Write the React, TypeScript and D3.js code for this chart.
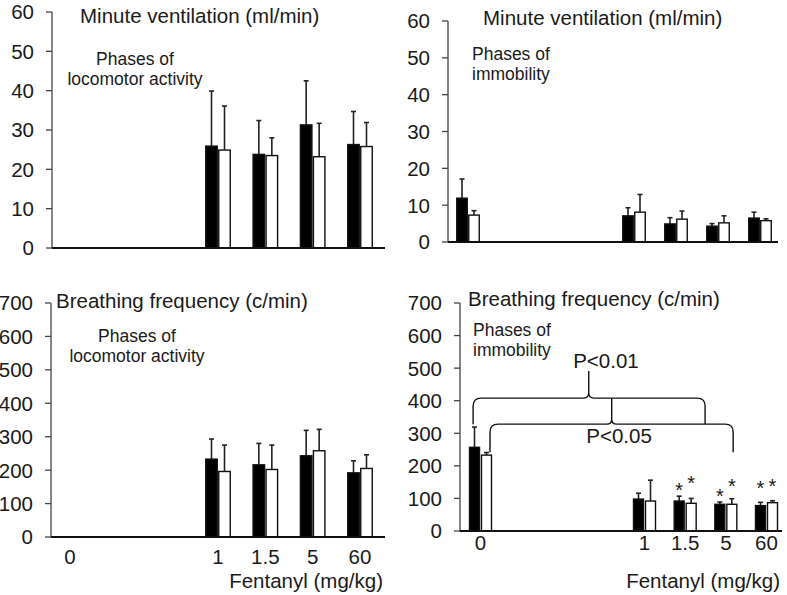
import * as React from "react";
import * as d3 from "d3";

// dose groups (fentanyl, mg/kg)
const doses = ["0", "1", "1.5", "5", "60"];

// minute ventilation (ml/min), phases of locomotor activity (no 0 group)
const mvLocoBlack = [null, 25.9, 23.8, 31.3, 26.3];
const mvLocoBlackSd = [null, 14.0, 8.6, 11.2, 8.4];
const mvLocoWhite = [null, 24.9, 23.5, 23.2, 25.8];
const mvLocoWhiteSd = [null, 11.2, 4.5, 8.5, 6.1];

// minute ventilation (ml/min), phases of immobility
const mvImmBlack = [11.9, 7.1, 4.9, 4.3, 6.5];
const mvImmBlackSd = [5.2, 2.2, 1.7, 0.7, 1.6];
const mvImmWhite = [7.3, 8.1, 6.2, 5.2, 5.8];
const mvImmWhiteSd = [1.2, 4.8, 2.2, 1.9, 0.5];

// breathing frequency (c/min), phases of locomotor activity
const bfLocoBlack = [null, 233, 216, 243, 192];
const bfLocoBlackSd = [null, 60, 64, 76, 36];
const bfLocoWhite = [null, 196, 202, 258, 205];
const bfLocoWhiteSd = [null, 79, 73, 64, 41];

// breathing frequency (c/min), phases of immobility
const bfImmBlack = [257, 98, 92, 82, 78];
const bfImmBlackSd = [62, 18, 15, 7, 10];
const bfImmWhite = [233, 92, 85, 82, 87];
const bfImmWhiteSd = [8, 64, 15, 17, 6];

// asterisk levels (c/min) for significant groups
const bfImmStarBlack = [null, null, 138, 120, 144];
const bfImmStarWhite = [null, null, 160, 150, 150];

const mvTicks = [0, 10, 20, 30, 40, 50, 60];
const bfTicks = [0, 100, 200, 300, 400, 500, 600, 700];

// significance brackets: x in group index units, y in c/min
const brackets = [
  { x0: -0.045, x1: 2.49, y: 408, yEnd: 328, peakX: 0.66, peakY: 491, label: "P<0.01", lx: 0.765, ly: 500 },
  { x0: 0.058, x1: 3.18, y: 328, yEnd: 242, peakX: 0.8, peakY: 408, label: "P<0.05", lx: 0.845, ly: 270 },
];

const FONT = "'Liberation Sans', Arial, sans-serif";
const INK = "#1a1a1a";

type Num = number | null;

interface PanelProps {
  title: string;
  phase: string[];
  axisX: number;
  axisEnd: number;
  yRange: [number, number];
  xRange: [number, number, number];
  yMax: number;
  ticks: number[];
  black: Num[];
  blackSd: Num[];
  white: Num[];
  whiteSd: Num[];
  barW: number;
  barOff: number;
  titlePos: [number, number];
  phasePos: [number, number, "start" | "middle"];
  xLabels?: number;
  stars?: { black: Num[]; white: Num[] };
  withBrackets?: boolean;
}

function bracePath(x0: number, x1: number, y: number, yEnd: number, px: number, py: number) {
  const r = 8;
  const q = 5;
  const p = d3.path();
  p.moveTo(x0, yEnd);
  p.lineTo(x0, y + r);
  p.quadraticCurveTo(x0, y, x0 + r, y);
  p.lineTo(px - q, y);
  p.quadraticCurveTo(px, y, px, y - q);
  p.lineTo(px, py);
  p.moveTo(px, y - q);
  p.quadraticCurveTo(px, y, px + q, y);
  p.lineTo(x1 - r, y);
  p.quadraticCurveTo(x1, y, x1, y + r);
  p.lineTo(x1, yEnd);
  return p.toString();
}

function Panel(props: PanelProps) {
  const y = d3.scaleLinear().domain([0, props.yMax]).range(props.yRange);
  const x = d3.scaleLinear().domain([0, 1, 4]).range(props.xRange);
  const [y0, yTop] = props.yRange;

  const series = [
    { vals: props.black, sd: props.blackSd, off: -props.barOff, fill: "#000" },
    { vals: props.white, sd: props.whiteSd, off: props.barOff, fill: "#fff" },
  ];

  return (
    <g fontFamily={FONT} fill={INK}>
      {/* y axis */}
      <line x1={props.axisX} x2={props.axisX} y1={yTop} y2={y0} stroke="#444" strokeWidth={1.3} />
      {props.ticks.map((t) => (
        <g key={t}>
          <line x1={props.axisX - 6} x2={props.axisX} y1={y(t)} y2={y(t)} stroke="#444" strokeWidth={1.3} />
          <text x={props.axisX - 18} y={y(t)} dy="0.36em" textAnchor="end" fontSize={20.5}>
            {t}
          </text>
        </g>
      ))}

      {/* bars */}
      {series.map((s, si) =>
        s.vals.map((v, i) => {
          if (v == null) return null;
          const cx = x(i) + s.off;
          const top = y(v);
          const errTop = y(v + (s.sd[i] ?? 0));
          return (
            <g key={`${si}-${i}`}>
              <line x1={cx} x2={cx} y1={top} y2={errTop} stroke="#222" strokeWidth={1.6} />
              <line x1={cx - 2.5} x2={cx + 2.5} y1={errTop} y2={errTop} stroke="#222" strokeWidth={1.6} />
              <rect
                x={cx - props.barW / 2}
                y={top}
                width={props.barW}
                height={y0 - top}
                fill={s.fill}
                stroke="#111"
                strokeWidth={1.4}
              />
            </g>
          );
        })
      )}

      {/* x axis */}
      <line x1={props.axisX} x2={props.axisEnd} y1={y0} y2={y0} stroke="#111" strokeWidth={2} />

      {props.xLabels != null &&
        doses.map((d, i) => (
          <text key={d} x={x(i)} y={props.xLabels} textAnchor="middle" fontSize={20.5}>
            {d}
          </text>
        ))}
      {props.xLabels != null && (
        <text x={props.axisEnd - 2} y={588} textAnchor="end" fontSize={20.5}>
          Fentanyl (mg/kg)
        </text>
      )}

      {/* titles */}
      <text x={props.titlePos[0]} y={props.titlePos[1]} fontSize={20.5}>
        {props.title}
      </text>
      {props.phase.map((line, i) => (
        <text
          key={line}
          x={props.phasePos[0]}
          y={props.phasePos[1] + i * 19.5}
          textAnchor={props.phasePos[2]}
          fontSize={17.5}
        >
          {line}
        </text>
      ))}

      {props.stars &&
        [props.stars.black, props.stars.white].map((arr, si) =>
          arr.map((v, i) =>
            v == null ? null : (
              <text
                key={`s${si}-${i}`}
                x={x(i) + (si === 0 ? -props.barOff : props.barOff)}
                y={y(v) + 11}
                textAnchor="middle"
                fontSize={20}
              >
                *
              </text>
            )
          )
        )}

      {props.withBrackets &&
        brackets.map((b) => (
          <g key={b.label}>
            <path
              d={bracePath(x(b.x0), x(b.x1), y(b.y), y(b.yEnd), x(b.peakX), y(b.peakY))}
              fill="none"
              stroke="#111"
              strokeWidth={1.4}
            />
            <text x={x(b.lx)} y={y(b.ly)} textAnchor="middle" fontSize={20.5}>
              {b.label}
            </text>
          </g>
        ))}
    </g>
  );
}

export default function App() {
  return (
    <svg
      width={787}
      height={595}
      style={{ position: "absolute", left: 0, top: 0, background: "#fff" }}
    >
      <Panel
        title="Minute ventilation (ml/min)"
        phase={["Phases of", "locomotor activity"]}
        axisX={52}
        axisEnd={385}
        yRange={[248, 12]}
        xRange={[70, 218, 360]}
        yMax={60}
        ticks={mvTicks}
        black={mvLocoBlack}
        blackSd={mvLocoBlackSd}
        white={mvLocoWhite}
        whiteSd={mvLocoWhiteSd}
        barW={11.5}
        barOff={6.5}
        titlePos={[80, 23]}
        phasePos={[135, 65, "middle"]}
      />
      <Panel
        title="Minute ventilation (ml/min)"
        phase={["Phases of", "immobility"]}
        axisX={448}
        axisEnd={778}
        yRange={[242, 21]}
        xRange={[468, 634, 760]}
        yMax={60}
        ticks={mvTicks}
        black={mvImmBlack}
        blackSd={mvImmBlackSd}
        white={mvImmWhite}
        whiteSd={mvImmWhiteSd}
        barW={10.5}
        barOff={6}
        titlePos={[483, 25]}
        phasePos={[472, 60, "start"]}
      />
      <Panel
        title="Breathing frequency (c/min)"
        phase={["Phases of", "locomotor activity"]}
        axisX={51}
        axisEnd={385}
        yRange={[537, 303]}
        xRange={[70, 218, 360]}
        yMax={700}
        ticks={bfTicks}
        black={bfLocoBlack}
        blackSd={bfLocoBlackSd}
        white={bfLocoWhite}
        whiteSd={bfLocoWhiteSd}
        barW={11.5}
        barOff={6.5}
        titlePos={[56, 308]}
        phasePos={[137, 342, "middle"]}
        xLabels={564}
      />
      <Panel
        title="Breathing frequency (c/min)"
        phase={["Phases of", "immobility"]}
        axisX={460}
        axisEnd={782}
        yRange={[531, 303]}
        xRange={[480.5, 644.5, 766.5]}
        yMax={700}
        ticks={bfTicks}
        black={bfImmBlack}
        blackSd={bfImmBlackSd}
        white={bfImmWhite}
        whiteSd={bfImmWhiteSd}
        barW={10}
        barOff={6}
        titlePos={[468, 306]}
        phasePos={[473, 336, "start"]}
        xLabels={550}
        stars={{ black: bfImmStarBlack, white: bfImmStarWhite }}
        withBrackets
      />
    </svg>
  );
}
